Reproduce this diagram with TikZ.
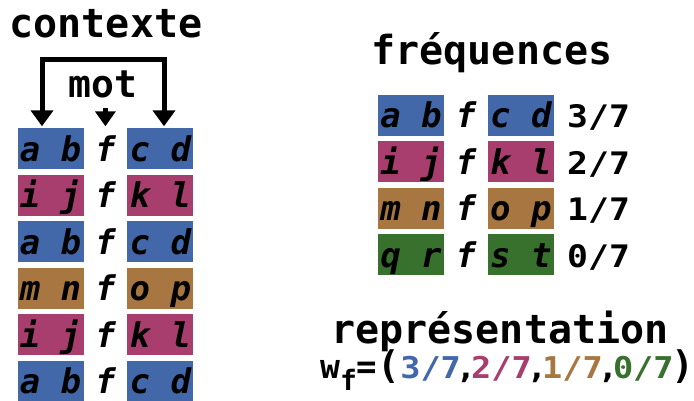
\documentclass[tikz,border=0pt]{standalone}
\usepackage{fontspec}
\newfontfamily\monofam{DejaVu Sans Mono}[
  BoldFont={DejaVu Sans Mono Bold},
  ItalicFont={DejaVu Sans Mono Oblique},
  BoldItalicFont={DejaVu Sans Mono Bold Oblique}]
\newfontfamily\widefam{DejaVu Sans Mono Bold}[FakeStretch=1.12]
\usepackage{xcolor}
\definecolor{ctxblue}{RGB}{66,104,170}
\definecolor{ctxred}{RGB}{168,62,110}
\definecolor{ctxbrown}{RGB}{168,118,64}
\definecolor{ctxgreen}{RGB}{56,112,46}
\usepackage{tikz}
\usetikzlibrary{arrows.meta,positioning}

\begin{document}
\begin{tikzpicture}[x=1pt, y=-1pt,
    title/.style={font=\monofam\bfseries\fontsize{40}{40}\selectfont,
                  anchor=base, inner sep=0pt},
    cell/.style={minimum width=66pt, minimum height=41pt, inner sep=0pt,
                 text height=28pt, text depth=3pt,
                 font=\monofam\bfseries\itshape\fontsize{34}{34}\selectfont},
    blu/.style={cell, fill=ctxblue},
    red/.style={cell, fill=ctxred},
    brn/.style={cell, fill=ctxbrown},
    grn/.style={cell, fill=ctxgreen},
    mid/.style={cell, minimum width=43pt},
    frac/.style={cell, minimum width=0pt,
                 font=\widefam\fontsize{31}{31}\selectfont},
    arr/.style={line width=5pt, -{Triangle[width=22pt,length=16pt]}},
  ]

  \path[use as bounding box, fill=white] (0,0) rectangle (694,401);

  %% LEFT -- context windows
  \node[title] (ctx) at (106,38) {contexte};
  \node[title, font=\monofam\bfseries\fontsize{38}{38}\selectfont] (mot) at (103,98) {mot};

  \node[blu] (l1) at (50.5,149) {a b};
  \node[mid, right=0pt of l1] (f1) {f};
  \node[blu, right=0pt of f1] (r1) {c d};

  \node[red, below=5pt of l1] (l2) {i j};
  \node[mid, right=0pt of l2] (f2) {f};
  \node[red, right=0pt of f2] (r2) {k l};

  \node[blu, below=5pt of l2] (l3) {a b};
  \node[mid, right=0pt of l3] (f3) {f};
  \node[blu, right=0pt of f3] (r3) {c d};

  \node[brn, below=5pt of l3] (l4) {m n};
  \node[mid, right=0pt of l4] (f4) {f};
  \node[brn, right=0pt of f4] (r4) {o p};

  \node[red, below=5pt of l4] (l5) {i j};
  \node[mid, right=0pt of l5] (f5) {f};
  \node[red, right=0pt of f5] (r5) {k l};

  \node[blu, below=5pt of l5] (l6) {a b};
  \node[mid, right=0pt of l6] (f6) {f};
  \node[blu, right=0pt of f6] (r6) {c d};

  \coordinate (brL) at (42,60);
  \coordinate (brR) at (164,60);
  \draw[arr, {Triangle[width=22pt,length=16pt]}-{Triangle[width=22pt,length=16pt]},
        shorten <=2pt, shorten >=2pt]
    (brL |- l1.north) -- (brL) -- (brR) -- (brR |- r1.north);
  \draw[arr, -{Triangle[width=20pt,length=15pt]}, shorten <=9pt, shorten >=2pt]
    (mot.south -| f1) -- (f1.north);

  %% RIGHT -- frequencies
  \node[title] (freq) at (492,65) {fréquences};

  \node[blu] (fl1) at (411,115.5) {a b};
  \node[mid, right=0pt of fl1] (ff1) {f};
  \node[blu, right=0pt of ff1] (fr1) {c d};
  \node[frac, right=13pt of fr1] (p1) {3/7};

  \node[red, below=5pt of fl1] (fl2) {i j};
  \node[mid, right=0pt of fl2] (ff2) {f};
  \node[red, right=0pt of ff2] (fr2) {k l};
  \node[frac, right=13pt of fr2] (p2) {2/7};

  \node[brn, below=5pt of fl2] (fl3) {m n};
  \node[mid, right=0pt of fl3] (ff3) {f};
  \node[brn, right=0pt of ff3] (fr3) {o p};
  \node[frac, right=13pt of fr3] (p3) {1/7};

  \node[grn, below=5pt of fl3] (fl4) {q r};
  \node[mid, right=0pt of fl4] (ff4) {f};
  \node[grn, right=0pt of ff4] (fr4) {s t};
  \node[frac, right=13pt of fr4] (p4) {0/7};

  %% representation vector
  \node[title] (repr) at (500,343) {représentation};
  \node[anchor=base west, inner sep=0pt,
        font=\widefam\fontsize{30}{30}\selectfont] (wf) at (320,378)
    {{\monofam\bfseries\fontsize{33}{33}\selectfont w}%
     \raisebox{-12pt}{\monofam\bfseries\fontsize{28}{28}\selectfont f}%
     {\monofam\bfseries\fontsize{34}{34}\selectfont =}%
     {\monofam\bfseries\fontsize{38}{38}\selectfont (}%
     \textcolor{ctxblue}{3/7}\kern-5pt,\kern-5pt%
     \textcolor{ctxred}{2/7}\kern-5pt,\kern-5pt%
     \textcolor{ctxbrown}{1/7}\kern-5pt,\kern-5pt%
     \textcolor{ctxgreen}{0/7}\kern-2pt{\monofam\bfseries\fontsize{38}{38}\selectfont )}};

\end{tikzpicture}
\end{document}
